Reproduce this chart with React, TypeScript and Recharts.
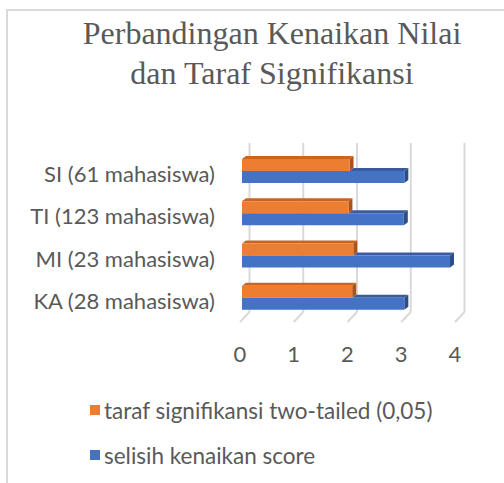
import { Bar, BarChart, CartesianGrid, Legend, XAxis, YAxis } from 'recharts'

const categories = ['SI (61 mahasiswa)', 'TI (123 mahasiswa)', 'MI (23 mahasiswa)', 'KA (28 mahasiswa)']
const tarafValues = [2.0, 1.98, 2.07, 2.05]
const selisihValues = [3.02, 3.01, 3.87, 3.02]
const xTicks = [0, 1, 2, 3, 4]

const titleLines = ['Perbandingan Kenaikan Nilai', 'dan Taraf Signifikansi']
const tarafName = 'taraf signifikansi two-tailed (0,05)'
const selisihName = 'selisih kenaikan score'
const legendOrder = [tarafName, selisihName]

const chartData = categories.map((name, i) => ({
  name,
  taraf: tarafValues[i],
  selisih: selisihValues[i],
}))

const FONT = 'Lato, "Noto Sans", sans-serif'
const TEXT = '#595959'
const GRID = '#d9d9d9'
const DX = 4
const DY = 3

type ShapeProps = {
  x?: number
  y?: number
  width?: number
  height?: number
  payload?: { taraf: number; selisih: number }
  front: string
  top: string
  side: string
  behind?: boolean
}

// fake 3D bar: front face, top face, right side
function Bar3D({ x = 0, y = 0, width = 0, height = 0, payload, front, top, side, behind }: ShapeProps) {
  let topStart = 0
  if (behind && payload && payload.selisih > 0) {
    // the orange bar sits in front of this one's top face
    topStart = (payload.taraf * width) / payload.selisih
  }
  const x2 = x + width
  const y2 = y + height
  return (
    <g>
      <polygon
        points={`${x + topStart},${y} ${x + topStart + DX},${y - DY} ${x2 + DX},${y - DY} ${x2},${y}`}
        fill={top}
      />
      <polygon points={`${x2},${y} ${x2 + DX},${y - DY} ${x2 + DX},${y2 - DY} ${x2},${y2}`} fill={side} />
      <rect x={x} y={y} width={width} height={height} fill={front} />
    </g>
  )
}

function CategoryTick({ x, y, payload }: { x?: number; y?: number; payload?: { value: string } }) {
  return (
    <text x={x} y={y} dy={11} textAnchor="end" fill={TEXT} fontFamily={FONT} fontSize={22}>
      {payload?.value}
    </text>
  )
}

function ValueTick({ x, y, payload }: { x?: number; y?: number; payload?: { value: number } }) {
  return (
    <text x={(x ?? 0) - 2} y={(y ?? 0) + 35} textAnchor="middle" fill={TEXT} fontFamily={FONT} fontSize={22}>
      {payload?.value}
    </text>
  )
}

function GridLine(p: { x1?: number; y1?: number; x2?: number; y2?: number; index?: number }) {
  const x = (p.x1 ?? 0) + 7.5
  const yTop = (p.y1 ?? 0) - 7
  const yBot = (p.y2 ?? 0) - 7
  return (
    <g key={`grid-${p.index}`}>
      <line x1={x} y1={yTop} x2={x} y2={yBot} stroke={GRID} strokeWidth={2} />
      <line x1={x} y1={yBot} x2={x - 9.5} y2={yBot + 10} stroke={GRID} strokeWidth={2} />
    </g>
  )
}

function LegendContent({ payload }: { payload?: { value: string; color: string }[] }) {
  const items = [...(payload ?? [])].sort((a, b) => legendOrder.indexOf(a.value) - legendOrder.indexOf(b.value))
  return (
    <div style={{ fontFamily: FONT, fontSize: 22.5, color: TEXT }}>
      {items.map((entry) => (
        <div key={entry.value} style={{ display: 'flex', alignItems: 'center', height: 45, whiteSpace: 'nowrap' }}>
          <span
            style={{ width: 10, height: 10, background: entry.color, marginRight: 4, flex: 'none', position: 'relative', top: -1 }}
          />
          <span>{entry.value}</span>
        </div>
      ))}
    </div>
  )
}

export default function App() {
  return (
    <div style={{ position: 'fixed', left: 0, top: 0, width: 504, height: 483, overflow: 'hidden', background: '#fff' }}>
      <div
        style={{
          position: 'absolute',
          left: 6,
          top: 9,
          width: 600,
          height: 600,
          borderLeft: `2px solid ${GRID}`,
          borderTop: `2px solid ${GRID}`,
        }}
      />
      <div
        style={{
          position: 'absolute',
          left: 46,
          top: 13,
          width: 452,
          textAlign: 'center',
          fontFamily: '"Liberation Serif", "Times New Roman", serif',
          fontSize: 32,
          lineHeight: '40px',
          color: TEXT,
        }}
      >
        {titleLines.map((t) => (
          <div key={t}>{t}</div>
        ))}
      </div>
      <div style={{ position: 'absolute', left: 0, top: 0 }}>
        <BarChart
          width={504}
          height={483}
          data={chartData}
          layout="vertical"
          margin={{ top: 150, right: 47, bottom: 124, left: 0 }}
          barSize={12}
          barGap={0}
        >
          <CartesianGrid horizontal={false} vertical={GridLine} />
          <XAxis
            type="number"
            domain={[0, 4]}
            ticks={xTicks}
            height={40}
            axisLine={false}
            tickLine={false}
            tick={<ValueTick />}
          />
          <YAxis
            type="category"
            dataKey="name"
            width={242}
            axisLine={false}
            tickLine={false}
            tickMargin={21}
            tick={<CategoryTick />}
          />
          <Legend
            layout="vertical"
            align="center"
            verticalAlign="middle"
            content={<LegendContent />}
            wrapperStyle={{ left: 90, top: 388, width: 400, height: 90 }}
          />
          <Bar
            dataKey="taraf"
            name={tarafName}
            fill="#ED7D31"
            isAnimationActive={false}
            shape={(p: any) => <Bar3D {...p} front="#ED7D31" top="#C9651F" side="#AE5318" />}
          />
          <Bar
            dataKey="selisih"
            name={selisihName}
            fill="#4472C4"
            isAnimationActive={false}
            shape={(p: any) => <Bar3D {...p} front="#4472C4" top="#3A5C9E" side="#2C4C86" behind />}
          />
        </BarChart>
      </div>
    </div>
  )
}
